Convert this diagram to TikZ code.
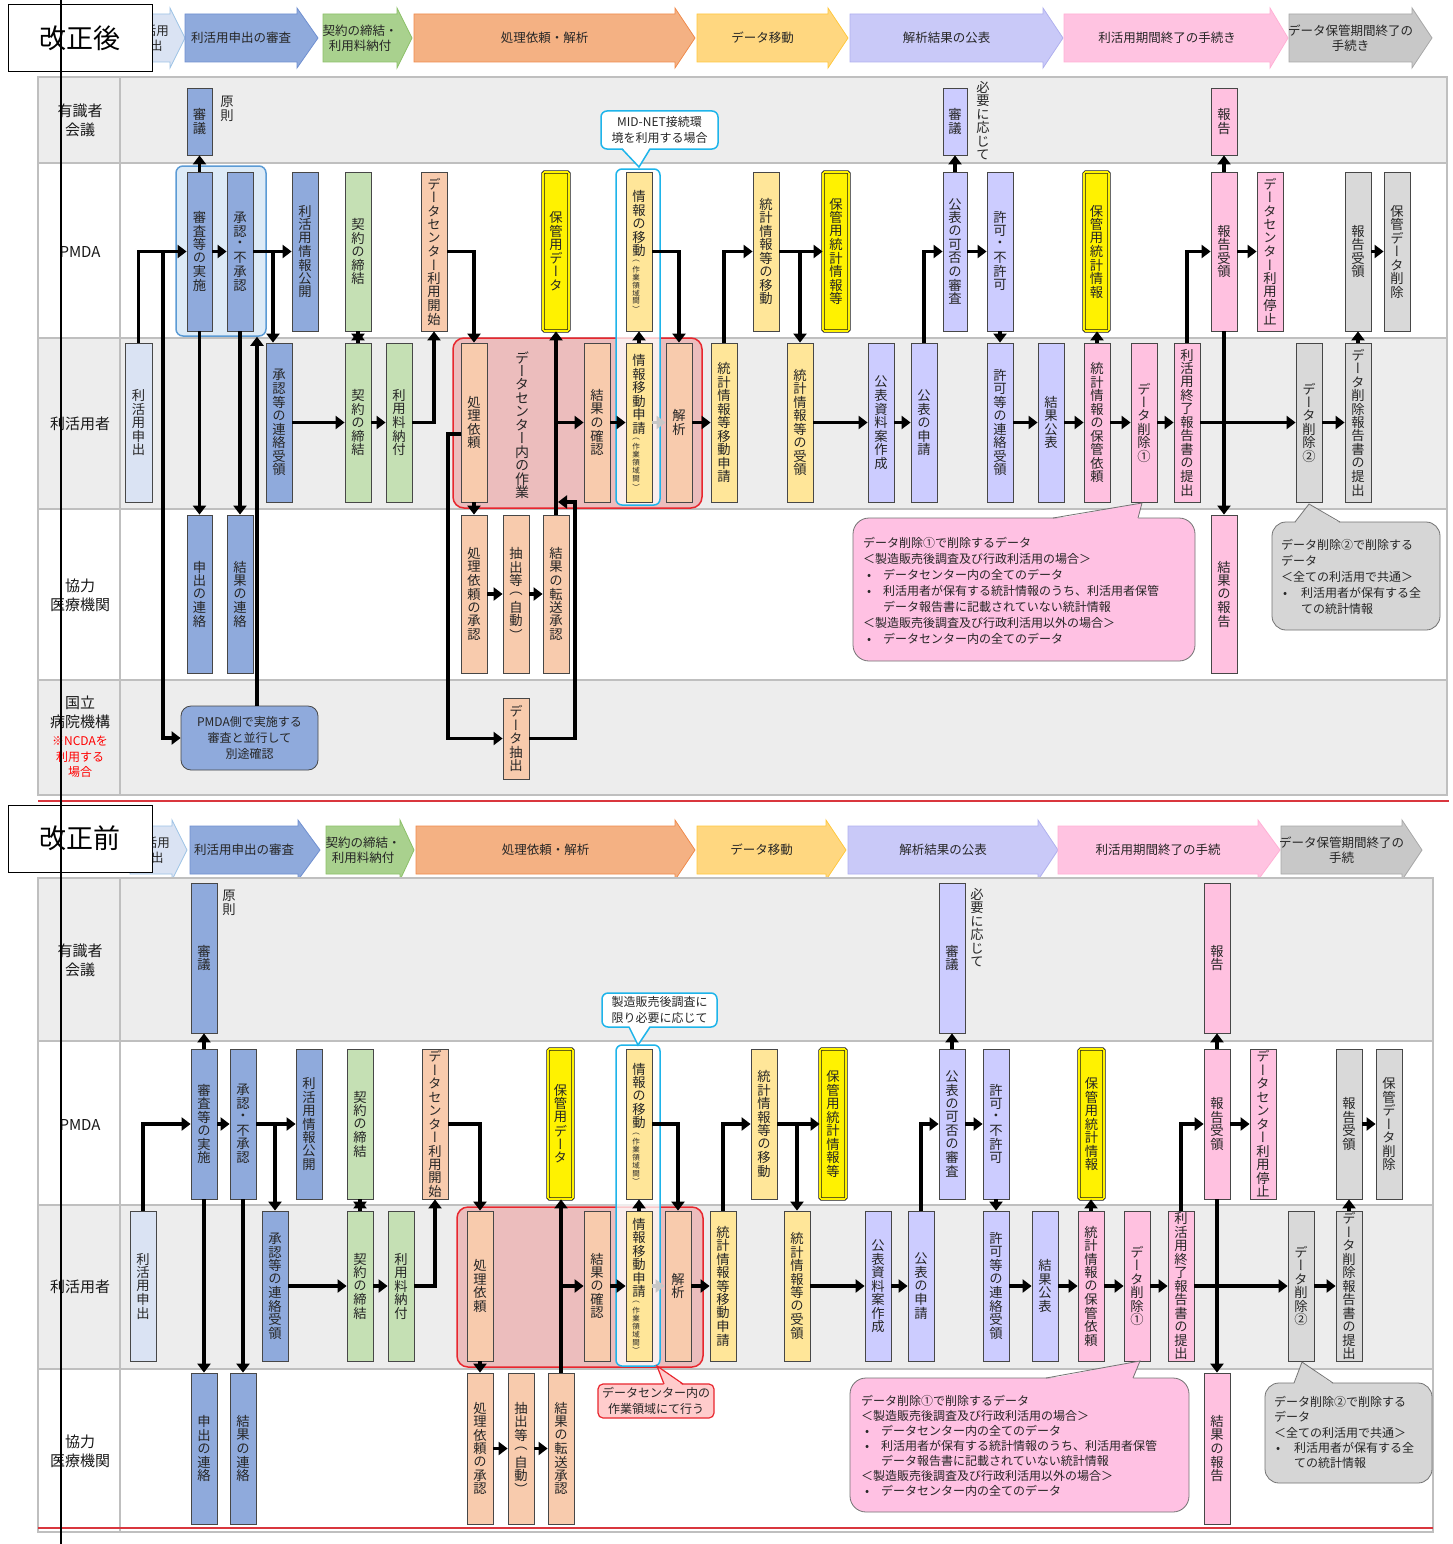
\documentclass[tikz,border=0pt]{standalone}
\usepackage{fontspec}
\setmainfont{Noto Sans CJK JP}
\newfontfamily\vfont[RawFeature=+vert]{Noto Sans CJK JP}
\usetikzlibrary{arrows.meta}
\definecolor{rowgray}{HTML}{EDEDED}
\definecolor{gridc}{HTML}{BFBFBF}
\definecolor{cBlue}{HTML}{8FAADC}
\definecolor{cLBlue}{HTML}{DAE3F3}
\definecolor{cGreen}{HTML}{C5E0B4}
\definecolor{cSalmon}{HTML}{F8CBAD}
\definecolor{cLOrange}{HTML}{FFE699}
\definecolor{cLav}{HTML}{CCCCFF}
\definecolor{cPink}{HTML}{FFC1E0}
\definecolor{cGray}{HTML}{D9D9D9}
\definecolor{hlBlue}{HTML}{DDEBF7}
\definecolor{hlBlueD}{HTML}{5B9BD5}
\definecolor{redFill}{HTML}{ECBDBD}
\definecolor{redD}{HTML}{E8262E}
\definecolor{cyanD}{HTML}{1EB4EA}
\definecolor{calPink}{HTML}{FFC1E3}
\definecolor{calGray}{HTML}{D6D6D6}
\definecolor{calRed}{HTML}{FFCCCC}
\definecolor{hA1}{HTML}{DAE3F3}\definecolor{hA1d}{HTML}{9DC3E6}
\definecolor{hA2}{HTML}{8FAADC}\definecolor{hA2d}{HTML}{6F8FD0}
\definecolor{hA3}{HTML}{A9D18E}\definecolor{hA3d}{HTML}{8CC068}
\definecolor{hA4}{HTML}{F4B183}\definecolor{hA4d}{HTML}{F08A4B}
\definecolor{hA5}{HTML}{FFD780}\definecolor{hA5d}{HTML}{FFC83D}
\definecolor{hA6}{HTML}{C9C9F8}\definecolor{hA6d}{HTML}{B0B0EE}
\definecolor{hA7}{HTML}{FFC3E1}\definecolor{hA7d}{HTML}{FFB0D5}
\definecolor{hA8}{HTML}{C8C8C8}\definecolor{hA8d}{HTML}{A8A8A8}
\definecolor{redline}{HTML}{D9363E}

\makeatletter
\def\vtpitch{13.5pt}
\def\vt@a#1{\ifx\relax#1\else\vbox to \vtpitch{\vss\hbox to 1em{\hss#1\hss}\vss}\expandafter\vt@a\fi}
\newcommand\vt[1]{\vbox{\offinterlineskip\vfont\vt@a#1\relax}}
\newcommand\vtm[2]{\vbox{\offinterlineskip\vfont\vt@a#1\relax\fontsize{7.5}{8}\selectfont\def\vtpitch{8pt}\vt@a#2\relax}}
\makeatother

\tikzset{
 bx/.style={draw=black!72, line width=0.8pt, inner sep=0pt, text=black!85, font=\fontsize{13.3}{14}\selectfont},
 blu/.style={bx, fill=cBlue},
 lblu/.style={bx, fill=cLBlue},
 grn/.style={bx, fill=cGreen},
 sal/.style={bx, fill=cSalmon},
 lor/.style={bx, fill=cLOrange},
 lav/.style={bx, fill=cLav},
 pnk/.style={bx, fill=cPink},
 gry/.style={bx, fill=cGray},
 ybx/.style={bx, fill=yellow, draw=black!90, double=yellow, double distance=1.6pt, rounded corners=1.5pt},
 conn/.style={draw=black, line width=3.5pt, -{Triangle[length=9pt,width=13pt]}},
 faint/.style={draw=black!22},
 lab/.style={align=center, font=\fontsize{15}{19}\selectfont, inner sep=0pt, text=black!90},
 htext/.style={align=center, font=\fontsize{12.5}{15}\selectfont, inner sep=0pt, text=black!85},
 caltext/.style={align=left, font=\fontsize{12}{16}\selectfont, inner sep=0pt, text=black!85, anchor=north west},
 vlab/.style={inner sep=0pt, text=black!85, font=\fontsize{13.3}{14}\selectfont},
 grid/.style={draw=gridc, line width=1.2pt},
 titlebox/.style={draw=black, fill=white, line width=1pt, minimum width=144pt, minimum height=67pt, inner sep=0pt, font=\fontsize{27}{30}\selectfont},
}
\newcommand\B[7]{\node[#2,minimum width={#4-#3},minimum height={#6-#5}] (#1) at ({(#3+#4)/2},{(#5+#6)/2}) {#7};}
\newcommand\harrow[8]{%
 \draw[draw=#7, fill=#6, line width=0.8pt] (#2,#5-24) -- (#3,#5-24) -- (#3,#5-30) -- (#4,#5) -- (#3,#5+30) -- (#3,#5+24) -- (#2,#5+24) -- cycle;
 \node[htext] (#1) at ({(#2+#3)/2},#5) {#8};}

\begin{document}
\begin{tikzpicture}[x=1pt,y=-1pt]
\useasboundingbox (0,0) rectangle (1453,1544);
\fill[white] (0,0) rectangle (1453,1544);

% ================= TOP (改正後) =================
\harrow{aH1}{130}{170}{185}{38}{hA1}{hA1d}{利活用\\申出}
\harrow{aH2}{185}{297}{318}{38}{hA2}{hA2d}{利活用申出の審査}
\harrow{aH3}{323}{397}{412}{38}{hA3}{hA3d}{契約の締結・\\利用料納付}
\harrow{aH4}{414}{675}{695}{38}{hA4}{hA4d}{処理依頼・解析}
\harrow{aH5}{697}{828}{848}{38}{hA5}{hA5d}{データ移動}
\harrow{aH6}{850}{1043}{1063}{38}{hA6}{hA6d}{解析結果の公表}
\harrow{aH7}{1064}{1270}{1288}{38}{hA7}{hA7d}{利活用期間終了の手続き}
\harrow{aH8}{1289}{1412}{1432}{38}{hA8}{hA8d}{データ保管期間終了の\\手続き}

\fill[rowgray] (38,77) rectangle (1447,163);
\fill[white] (38,163) rectangle (1447,338);
\fill[rowgray] (38,338) rectangle (1447,509);
\fill[white] (38,509) rectangle (1447,680);
\fill[rowgray] (38,680) rectangle (1447,795);
\draw[grid] (38,77) rectangle (1447,795);
\foreach \yy in {163,338,509,680} \draw[grid] (38,\yy) -- (1447,\yy);
\draw[grid] (120,77) -- (120,795);

\node[lab] (aL1) at (80,120) {有識者\\会議};
\node[lab] (aL2) at (80,252) {PMDA};
\node[lab] (aL3) at (80,424) {利活用者};
\node[lab] (aL4) at (80,595) {協力\\医療機関};
\node[lab] (aL5) at (80,712.5) {国立\\病院機構};
\node[lab, text=red, font=\fontsize{12}{15.5}\selectfont] (aL6) at (80,757) {※NCDAを\\利用する\\場合};

% group rectangles
\node[draw=hlBlueD, fill=hlBlue, line width=1.5pt, rounded corners=7pt, minimum width=90, minimum height=170, inner sep=0pt] (aHL) at (221,251) {};
\draw[draw=redD, fill=redFill, line width=1.5pt, rounded corners=11pt] (453,338) rectangle (702,508);
\node[vlab, font=\fontsize{14}{15}\selectfont] (aDCwork) at (522,425) {\vt{データセンター内の作業}};

% boxes row1
\B{aShin}{blu}{187}{212}{88}{155}{\vt{審議}}
\node[vlab] (aGen) at (227,108.5) {\vt{原則}};
\B{aShin2}{lav}{943}{967}{88}{155}{\vt{審議}}
\node[vlab] (aHitsu) at (983,121) {\vt{必要に応じて}};
\B{aHoukoku}{pnk}{1211}{1237}{88}{155}{\vt{報告}}
% row2
\B{aReview}{blu}{187}{212}{172}{331}{\vt{審査等の実施}}
\B{aApprove}{blu}{227}{253}{172}{331}{\vt{承認・不承認}}
\B{aPublish}{blu}{292}{318}{172}{331}{\vt{利活用情報公開}}
\B{aContract}{grn}{345}{371}{172}{331}{\vt{契約の締結}}
\B{aDCstart}{sal}{421}{447}{172}{331}{\vt{データセンター利用開始}}
\B{aKeep}{ybx}{543}{569}{172}{331}{\vt{保管用データ}}
\B{aStatMove}{lor}{753}{779}{172}{331}{\vt{統計情報等の移動}}
\B{aKeepStat}{ybx}{823}{849}{172}{331}{\vt{保管用統計情報等}}
\B{aPubRev}{lav}{943}{967}{172}{331}{\vt{公表の可否の審査}}
\B{aPermit}{lav}{987}{1013}{172}{331}{\vt{許可・不許可}}
\B{aKeepStat2}{ybx}{1084}{1109}{172}{331}{\vt{保管用統計情報}}
\B{aRepRecv}{pnk}{1211}{1237}{172}{331}{\vt{報告受領}}
\B{aDCstop}{pnk}{1257}{1283}{172}{331}{\vt{データセンター利用停止}}
\B{aRepRecv2}{gry}{1345}{1371}{172}{331}{\vt{報告受領}}
\B{aDelKeep}{gry}{1384}{1410}{172}{331}{\vt{保管データ削除}}
% row3
\B{aApply}{lblu}{125}{152}{343}{502}{\vt{利活用申出}}
\B{aNotice}{blu}{266}{292}{343}{502}{\vt{承認等の連絡受領}}
\B{aContract2}{grn}{345}{371}{343}{502}{\vt{契約の締結}}
\B{aFee}{grn}{386}{412}{343}{502}{\vt{利用料納付}}
\B{aReq}{sal}{461}{487}{343}{502}{\vt{処理依頼}}
\B{aCheck}{sal}{584}{610}{343}{502}{\vt{結果の確認}}
\B{aAnalysis}{sal}{666}{692}{343}{502}{\vt{解析}}
\B{aStatReq}{lor}{711}{737}{343}{502}{\vt{統計情報等移動申請}}
\B{aStatRecv}{lor}{787}{813}{343}{502}{\vt{統計情報等の受領}}
\B{aDraft}{lav}{868}{894}{343}{502}{\vt{公表資料案作成}}
\B{aPubApply}{lav}{911}{937}{343}{502}{\vt{公表の申請}}
\B{aPermitRecv}{lav}{987}{1013}{343}{502}{\vt{許可等の連絡受領}}
\B{aResultPub}{lav}{1038}{1064}{343}{502}{\vt{結果公表}}
\B{aKeepReq}{pnk}{1084}{1110}{343}{502}{\vt{統計情報の保管依頼}}
\B{aDel1}{pnk}{1131}{1157}{343}{502}{\vt{データ削除①}}
\B{aEndRep}{pnk}{1174}{1200}{343}{502}{\vt{利活用終了報告書の提出}}
\B{aDel2}{gry}{1296}{1322}{343}{502}{\vt{データ削除②}}
\B{aDelRep}{gry}{1345}{1371}{343}{502}{\vt{データ削除報告書の提出}}
% row4
\B{aAppNotice}{blu}{187}{212}{515}{673}{\vt{申出の連絡}}
\B{aResNotice}{blu}{227}{253}{515}{673}{\vt{結果の連絡}}
\B{aReqOK}{sal}{461}{487}{515}{673}{\vt{処理依頼の承認}}
\B{aExtract}{sal}{503}{529}{515}{673}{\vt{抽出等（自動）}}
\B{aTransfer}{sal}{543}{569}{515}{673}{\vt{結果の転送承認}}
\B{aResRep}{pnk}{1211}{1237}{515}{673}{\vt{結果の報告}}
% row5
\node[blu, rounded corners=10pt, minimum width=137, minimum height=64, align=center, font=\fontsize{12}{16}\selectfont] (aNCDA) at (249.5,738) {PMDA側で実施する\\審査と並行して\\別途確認};
\B{aDataExt}{sal}{503}{529}{698}{779}{\vt{データ抽出}}

% connectors (top)
\coordinate (aJ1) at (163,251.5);
\coordinate (aJ2) at (273,251.5);
\coordinate (aN1) at (257,706);
\coordinate (aR1) at (461,434);
\coordinate (aT1) at (558,502);
\coordinate (aJ3) at (556,422.5);
\coordinate (aJ4) at (800,251.5);
\draw[conn] (aApply.north) |- (aReview.west);
\draw[conn] (aJ1) |- (aNCDA.west);
\draw[conn] (aReview.north) -- (aShin.south);
\draw[conn] (aReview.east) -- (aApprove.west);
\draw[conn] (aApprove.east) -- (aPublish.west);
\draw[conn] (aJ2) -- (aJ2 |- aNotice.north);
\draw[conn] (aReview.south) -- (aAppNotice.north);
\draw[conn] (aApprove.south) -- (aResNotice.north);
\draw[conn] (aN1) -- (aN1 |- aHL.south);
\draw[conn] (aNotice.east) -- (aContract2.west);
\draw[conn] (aContract2.north) -- (aContract.south);
\draw[conn] (aContract.south) -- (aContract2.north);
\draw[conn] (aContract2.east) -- (aFee.west);
\draw[conn] (aFee.east) -| (aDCstart.south);
\draw[conn] (aDCstart.east) -| (aReq.north);
\draw[conn] (aReq.south) -- (aReqOK.north);
\draw[conn] (aR1) -- ++(-13,0) |- (aDataExt.west);
\draw[conn] (aReqOK.east) -- (aExtract.west);
\draw[conn] (aExtract.east) -- (aTransfer.west);
\draw[conn] (aDataExt.east) -| (575,502) -- (aT1);
\draw[conn] (aTransfer.north) -- (aTransfer.north |- aKeep.south);
\draw[conn] (aJ3) -- (aCheck.west);
\draw[conn] (aAnalysis.east) -- (aStatReq.west);
\draw[conn] (aStatReq.north) |- (aStatMove.west);
\draw[conn] (aStatMove.east) -- (aKeepStat.west);
\draw[conn] (aJ4) -- (aJ4 |- aStatRecv.north);
\draw[conn] (aStatRecv.east) -- (aDraft.west);
\draw[conn] (aDraft.east) -- (aPubApply.west);
\draw[conn] (aPubApply.north) |- (aPubRev.west);
\draw[conn] (aPubRev.north) -- (aShin2.south);
\draw[conn] (aPubRev.east) -- (aPermit.west);
\draw[conn] (aPermit.south) -- (aPermitRecv.north);
\draw[conn] (aPermitRecv.east) -- (aResultPub.west);
\draw[conn] (aResultPub.east) -- (aKeepReq.west);
\draw[conn] (aKeepReq.north) -- (aKeepReq.north |- aKeepStat2.south);
\draw[conn] (aKeepReq.east) -- (aDel1.west);
\draw[conn] (aDel1.east) -- (aEndRep.west);
\draw[conn] (aEndRep.north) |- (aRepRecv.west);
\draw[conn] (aEndRep.east) -- (aDel2.west);
\draw[conn] (aRepRecv.north) -- (aHoukoku.south);
\draw[conn] (aRepRecv.east) -- (aDCstop.west);
\draw[conn] (aRepRecv.south) -- (aResRep.north);
\draw[conn] (aDel2.east) -- (aDelRep.west);
\draw[conn] (aDelRep.north) -- (aRepRecv2.south);
\draw[conn] (aRepRecv2.east) -- (aDelKeep.west);

% cyan group (semi-transparent) and boxes inside
\node[draw=cyanD, fill=white, fill opacity=0.75, line width=1.5pt, rounded corners=6pt, minimum width=44, minimum height=336, inner sep=0pt] (aCY) at (638,337) {};
\B{aMove}{lor}{626}{652}{172}{331}{\vtm{情報の移動}{（作業領域間）}}
\B{aMoveReq}{lor}{626}{652}{343}{502}{\vtm{情報移動申請}{（作業領域間）}}
\draw[conn] (aCheck.east) -- (aMoveReq.west);
\draw[conn] (aMoveReq.north) -- (aMove.south);
\draw[conn] (aMove.east) -| (aAnalysis.north);
\draw[conn, faint] (aMoveReq.east) -- (aAnalysis.west);

% callouts (top)
\draw[draw=cyanD, fill=white, line width=1.5pt, rounded corners=6pt] (601,111) rectangle (718,149);
\fill[white] (622,147.5) -- (639,167) -- (650,147.5) -- cycle;
\draw[draw=cyanD, line width=1.5pt] (622,149) -- (639,167) -- (650,149);
\node[align=center, inner sep=0pt, text=black!85, font=\fontsize{12}{16}\selectfont] (aCalMid) at (659.5,130) {MID-NET接続環\\境を利用する場合};

\draw[draw=black!55, fill=calPink, line width=0.8pt, rounded corners=16pt] (853,518) rectangle (1195,661);
\fill[calPink] (1053,519.2) -- (1142,503) -- (1138,519.2) -- cycle;
\draw[draw=black!55, line width=0.8pt] (1053,518) -- (1142,503) -- (1138,518);
\node[caltext] (aCal1) at (863,537) {データ削除①で削除するデータ\\
＜製造販売後調査及び行政利活用の場合＞\\
\makebox[20pt][l]{\hspace{4pt}•}データセンター内の全てのデータ\\
\makebox[20pt][l]{\hspace{4pt}•}利活用者が保有する統計情報のうち、利活用者保管\\
\hspace*{20pt}データ報告書に記載されていない統計情報\\
＜製造販売後調査及び行政利活用以外の場合＞\\
\makebox[20pt][l]{\hspace{4pt}•}データセンター内の全てのデータ};

\draw[draw=black!55, fill=calGray, line width=0.8pt, rounded corners=14pt] (1272,522) rectangle (1440,630);
\fill[calGray] (1295,523.2) -- (1309,504) -- (1340,523.2) -- cycle;
\draw[draw=black!55, line width=0.8pt] (1295,522) -- (1309,504) -- (1340,522);
\node[caltext] (aCal2) at (1281,539) {データ削除②で削除する\\
データ\\
＜全ての利活用で共通＞\\
\makebox[20pt][l]{\hspace{2pt}•}利活用者が保有する全\\
\hspace*{20pt}ての統計情報};

% red separator
\draw[redline, line width=1.5pt] (38,801) -- (1449,801);

% ================= BOTTOM (改正前) =================
\harrow{bH1}{130}{172}{187}{850}{hA1}{hA1d}{利活用\\申出}
\harrow{bH2}{190}{298}{320}{850}{hA2}{hA2d}{利活用申出の審査}
\harrow{bH3}{326}{400}{414}{850}{hA3}{hA3d}{契約の締結・\\利用料納付}
\harrow{bH4}{416}{675}{695}{850}{hA4}{hA4d}{処理依頼・解析}
\harrow{bH5}{697}{826}{846}{850}{hA5}{hA5d}{データ移動}
\harrow{bH6}{848}{1038}{1058}{850}{hA6}{hA6d}{解析結果の公表}
\harrow{bH7}{1058}{1258}{1280}{850}{hA7}{hA7d}{利活用期間終了の手続}
\harrow{bH8}{1281}{1402}{1422}{850}{hA8}{hA8d}{データ保管期間終了の\\手続}

\fill[rowgray] (38,878) rectangle (1433,1041);
\fill[white] (38,1041) rectangle (1433,1205);
\fill[rowgray] (38,1205) rectangle (1433,1369);
\fill[white] (38,1369) rectangle (1433,1532);
\draw[grid] (38,878) rectangle (1433,1532);
\foreach \yy in {1041,1205,1369} \draw[grid] (38,\yy) -- (1433,\yy);
\draw[grid] (120,878) -- (120,1532);

\node[lab] (bL1) at (80,960) {有識者\\会議};
\node[lab] (bL2) at (80,1125) {PMDA};
\node[lab] (bL3) at (80,1287) {利活用者};
\node[lab] (bL4) at (80,1451) {協力\\医療機関};

\draw[draw=redD, fill=redFill, line width=1.5pt, rounded corners=11pt] (457,1207) rectangle (703,1367);

% boxes row1
\B{bShin}{blu}{191}{217}{883}{1033}{\vt{審議}}
\node[vlab] (bGen) at (229,903) {\vt{原則}};
\B{bShin2}{lav}{939}{965}{883}{1033}{\vt{審議}}
\node[vlab] (bHitsu) at (977,928) {\vt{必要に応じて}};
\B{bHoukoku}{pnk}{1204}{1230}{883}{1033}{\vt{報告}}
% row2
\B{bReview}{blu}{191}{217}{1049}{1199}{\vt{審査等の実施}}
\B{bApprove}{blu}{230}{256}{1049}{1199}{\vt{承認・不承認}}
\B{bPublish}{blu}{296}{322}{1049}{1199}{\vt{利活用情報公開}}
\B{bContract}{grn}{347}{373}{1049}{1199}{\vt{契約の締結}}
\B{bDCstart}{sal}{422}{448}{1049}{1199}{\vt{データセンター利用開始}}
\B{bKeep}{ybx}{548}{573}{1049}{1199}{\vt{保管用データ}}
\B{bStatMove}{lor}{751}{777}{1049}{1199}{\vt{統計情報等の移動}}
\B{bKeepStat}{ybx}{820}{846}{1049}{1199}{\vt{保管用統計情報等}}
\B{bPubRev}{lav}{939}{965}{1049}{1199}{\vt{公表の可否の審査}}
\B{bPermit}{lav}{983}{1009}{1049}{1199}{\vt{許可・不許可}}
\B{bKeepStat2}{ybx}{1079}{1104}{1049}{1199}{\vt{保管用統計情報}}
\B{bRepRecv}{pnk}{1204}{1230}{1049}{1199}{\vt{報告受領}}
\B{bDCstop}{pnk}{1250}{1276}{1049}{1199}{\vt{データセンター利用停止}}
\B{bRepRecv2}{gry}{1336}{1362}{1049}{1199}{\vt{報告受領}}
\B{bDelKeep}{gry}{1376}{1402}{1049}{1199}{\vt{保管データ削除}}
% row3
\B{bApply}{lblu}{130}{156}{1211}{1361}{\vt{利活用申出}}
\B{bNotice}{blu}{262}{288}{1211}{1361}{\vt{承認等の連絡受領}}
\B{bContract2}{grn}{347}{373}{1211}{1361}{\vt{契約の締結}}
\B{bFee}{grn}{388}{414}{1211}{1361}{\vt{利用料納付}}
\B{bReq}{sal}{467}{493}{1211}{1361}{\vt{処理依頼}}
\B{bCheck}{sal}{584}{610}{1211}{1361}{\vt{結果の確認}}
\B{bAnalysis}{sal}{665}{691}{1211}{1361}{\vt{解析}}
\B{bStatReq}{lor}{710}{736}{1211}{1361}{\vt{統計情報等移動申請}}
\B{bStatRecv}{lor}{784}{810}{1211}{1361}{\vt{統計情報等の受領}}
\B{bDraft}{lav}{865}{891}{1211}{1361}{\vt{公表資料案作成}}
\B{bPubApply}{lav}{908}{934}{1211}{1361}{\vt{公表の申請}}
\B{bPermitRecv}{lav}{983}{1009}{1211}{1361}{\vt{許可等の連絡受領}}
\B{bResultPub}{lav}{1032}{1058}{1211}{1361}{\vt{結果公表}}
\B{bKeepReq}{pnk}{1078}{1104}{1211}{1361}{\vt{統計情報の保管依頼}}
\B{bDel1}{pnk}{1124}{1150}{1211}{1361}{\vt{データ削除①}}
\B{bEndRep}{pnk}{1168}{1194}{1211}{1361}{\vt{利活用終了報告書の提出}}
\B{bDel2}{gry}{1288}{1314}{1211}{1361}{\vt{データ削除②}}
\B{bDelRep}{gry}{1336}{1362}{1211}{1361}{\vt{データ削除報告書の提出}}
% row4
\B{bAppNotice}{blu}{191}{217}{1373}{1524}{\vt{申出の連絡}}
\B{bResNotice}{blu}{230}{256}{1373}{1524}{\vt{結果の連絡}}
\B{bReqOK}{sal}{467}{493}{1373}{1524}{\vt{処理依頼の承認}}
\B{bExtract}{sal}{508}{534}{1373}{1524}{\vt{抽出等（自動）}}
\B{bTransfer}{sal}{548}{574}{1373}{1524}{\vt{結果の転送承認}}
\B{bResRep}{pnk}{1204}{1230}{1373}{1524}{\vt{結果の報告}}

% connectors (bottom)
\coordinate (bJ2) at (275,1124);
\coordinate (bJ3) at (561,1286);
\coordinate (bJ4) at (797,1124);
\draw[conn] (bApply.north) |- (bReview.west);
\draw[conn] (bReview.north) -- (bShin.south);
\draw[conn] (bReview.east) -- (bApprove.west);
\draw[conn] (bApprove.east) -- (bPublish.west);
\draw[conn] (bJ2) -- (bJ2 |- bNotice.north);
\draw[conn] (bReview.south) -- (bAppNotice.north);
\draw[conn] (bApprove.south) -- (bResNotice.north);
\draw[conn] (bNotice.east) -- (bContract2.west);
\draw[conn] (bContract2.north) -- (bContract.south);
\draw[conn] (bContract.south) -- (bContract2.north);
\draw[conn] (bContract2.east) -- (bFee.west);
\draw[conn] (bFee.east) -| (bDCstart.south);
\draw[conn] (bDCstart.east) -| (bReq.north);
\draw[conn] (bReq.south) -- (bReqOK.north);
\draw[conn] (bReqOK.east) -- (bExtract.west);
\draw[conn] (bExtract.east) -- (bTransfer.west);
\draw[conn] (bTransfer.north) -- (bTransfer.north |- bKeep.south);
\draw[conn] (bJ3) -- (bCheck.west);
\draw[conn] (bAnalysis.east) -- (bStatReq.west);
\draw[conn] (bStatReq.north) |- (bStatMove.west);
\draw[conn] (bStatMove.east) -- (bKeepStat.west);
\draw[conn] (bJ4) -- (bJ4 |- bStatRecv.north);
\draw[conn] (bStatRecv.east) -- (bDraft.west);
\draw[conn] (bDraft.east) -- (bPubApply.west);
\draw[conn] (bPubApply.north) |- (bPubRev.west);
\draw[conn] (bPubRev.north) -- (bShin2.south);
\draw[conn] (bPubRev.east) -- (bPermit.west);
\draw[conn] (bPermit.south) -- (bPermitRecv.north);
\draw[conn] (bPermitRecv.east) -- (bResultPub.west);
\draw[conn] (bResultPub.east) -- (bKeepReq.west);
\draw[conn] (bKeepReq.north) -- (bKeepReq.north |- bKeepStat2.south);
\draw[conn] (bKeepReq.east) -- (bDel1.west);
\draw[conn] (bDel1.east) -- (bEndRep.west);
\draw[conn] (bEndRep.north) |- (bRepRecv.west);
\draw[conn] (bEndRep.east) -- (bDel2.west);
\draw[conn] (bRepRecv.north) -- (bHoukoku.south);
\draw[conn] (bRepRecv.east) -- (bDCstop.west);
\draw[conn] (bRepRecv.south) -- (bResRep.north);
\draw[conn] (bDel2.east) -- (bDelRep.west);
\draw[conn] (bDelRep.north) -- (bRepRecv2.south);
\draw[conn] (bRepRecv2.east) -- (bDelKeep.west);

\node[draw=cyanD, fill=white, fill opacity=0.75, line width=1.5pt, rounded corners=6pt, minimum width=44, minimum height=321, inner sep=0pt] (bCY) at (638,1205.5) {};
\B{bMove}{lor}{626}{652}{1049}{1199}{\vtm{情報の移動}{（作業領域間）}}
\B{bMoveReq}{lor}{626}{652}{1211}{1361}{\vtm{情報移動申請}{（作業領域間）}}
\draw[conn] (bCheck.east) -- (bMoveReq.west);
\draw[conn] (bMoveReq.north) -- (bMove.south);
\draw[conn] (bMove.east) -| (bAnalysis.north);
\draw[conn, faint] (bMoveReq.east) -- (bAnalysis.west);

% callouts (bottom)
\draw[draw=cyanD, fill=white, line width=1.5pt, rounded corners=6pt] (602,993) rectangle (717,1027);
\fill[white] (629,1025.5) -- (638,1045) -- (650,1025.5) -- cycle;
\draw[draw=cyanD, line width=1.5pt] (629,1027) -- (638,1045) -- (650,1027);
\node[align=center, inner sep=0pt, text=black!85, font=\fontsize{12}{16}\selectfont] (bCalMid) at (659.5,1010) {製造販売後調査に\\限り必要に応じて};

\draw[draw=redD, fill=calRed, line width=1.2pt, rounded corners=5pt] (598,1384) rectangle (714,1418);
\fill[calRed] (664,1385.5) -- (657,1366) -- (683,1385.5) -- cycle;
\draw[draw=redD, line width=1.2pt] (664,1384) -- (657,1366) -- (683,1384);
\node[align=center, inner sep=0pt, text=black!85, font=\fontsize{12}{16}\selectfont] (bCalRed) at (656,1401) {データセンター内の\\作業領域にて行う};

\draw[draw=black!55, fill=calPink, line width=0.8pt, rounded corners=16pt] (850,1378) rectangle (1189,1512);
\fill[calPink] (1046,1379.2) -- (1140,1361) -- (1133,1379.2) -- cycle;
\draw[draw=black!55, line width=0.8pt] (1046,1378) -- (1140,1361) -- (1133,1378);
\node[caltext, font=\fontsize{12}{15}\selectfont] (bCal1) at (861,1395) {データ削除①で削除するデータ\\
＜製造販売後調査及び行政利活用の場合＞\\
\makebox[20pt][l]{\hspace{4pt}•}データセンター内の全てのデータ\\
\makebox[20pt][l]{\hspace{4pt}•}利活用者が保有する統計情報のうち、利活用者保管\\
\hspace*{20pt}データ報告書に記載されていない統計情報\\
＜製造販売後調査及び行政利活用以外の場合＞\\
\makebox[20pt][l]{\hspace{4pt}•}データセンター内の全てのデータ};

\draw[draw=black!55, fill=calGray, line width=0.8pt, rounded corners=14pt] (1265,1383) rectangle (1432,1483);
\fill[calGray] (1294,1384.2) -- (1302,1362) -- (1333,1384.2) -- cycle;
\draw[draw=black!55, line width=0.8pt] (1294,1383) -- (1302,1362) -- (1333,1383);
\node[caltext, font=\fontsize{12}{15.3}\selectfont] (bCal2) at (1274,1396) {データ削除②で削除する\\
データ\\
＜全ての利活用で共通＞\\
\makebox[20pt][l]{\hspace{2pt}•}利活用者が保有する全\\
\hspace*{20pt}ての統計情報};

\draw[redline, line width=1.5pt] (38,1528) -- (1433,1528);

% titles
\node[titlebox] (aTitle) at (80,38.5) {改正後};
\node[titlebox] (bTitle) at (80,838.5) {改正前};

% vertical black line
\draw[black, line width=1.6pt] (61,0) -- (61,1544);
\end{tikzpicture}
\end{document}
